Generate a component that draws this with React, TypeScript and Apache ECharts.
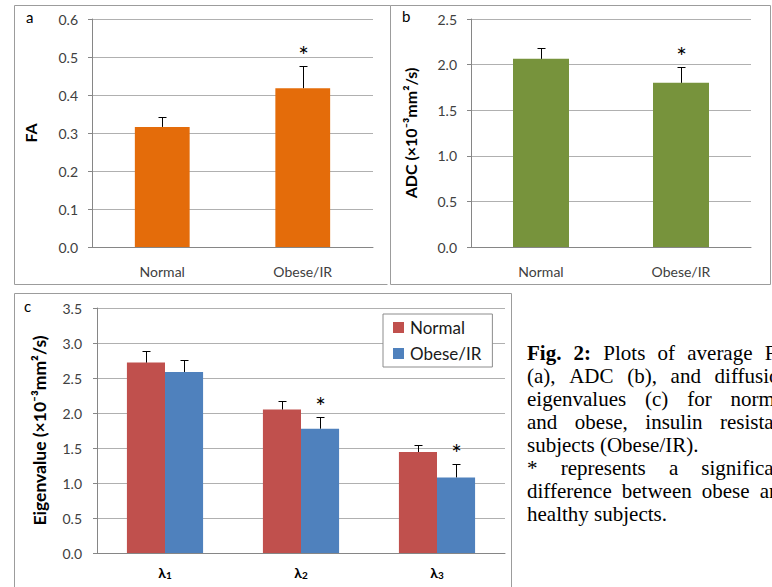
import React, { useEffect, useRef } from 'react';
import * as echarts from 'echarts';

// ---------- data ----------
const groups = ['Normal', 'Obese/IR'];

const faMeans = [0.316, 0.418];
const faErrors = [0.025, 0.058];
const faSignificant = [false, true];

const adcMeans = [2.063, 1.8];
const adcErrors = [0.117, 0.176];
const adcSignificant = [false, true];

const eigenCategories = ['λ1', 'λ2', 'λ3'];
const eigenNormal = [2.72, 2.05, 1.443];
const eigenNormalErr = [0.16, 0.12, 0.104];
const eigenObese = [2.586, 1.776, 1.08];
const eigenObeseErr = [0.171, 0.174, 0.196];
const eigenSignificant = [false, true, true];

const faRange = [0, 0.6, 0.1];
const adcRange = [0, 2.5, 0.5];
const eigenRange = [0, 3.5, 0.5];

const captionLines = [
  { text: 'Fig. 2: Plots of average FA', justify: true, boldWords: 2 },
  { text: '(a), ADC (b), and diffusion', justify: true, boldWords: 0 },
  { text: 'eigenvalues (c) for normal', justify: true, boldWords: 0 },
  { text: 'and obese, insulin resistant', justify: true, boldWords: 0 },
  { text: 'subjects (Obese/IR).', justify: false, boldWords: 0 },
  { text: '* represents a significant', justify: true, boldWords: 0 },
  { text: 'difference between obese and', justify: true, boldWords: 0 },
  { text: 'healthy subjects.', justify: false, boldWords: 0 },
];

// ---------- styles ----------
const FONT = 'Lato, "Open Sans", "DejaVu Sans", sans-serif';
const SERIF = '"Liberation Serif", "Times New Roman", serif';
const AXIS_GRAY = '#868686';
const GRID_GRAY = '#b0b0b0';
const LABEL = '#404040';
const BORDER = '#9c9c9c';
const CAPTION_SIZE = 21;

function valueAxis(gridIndex: number, range: number[], name: string, nameGap: number, nameSize: number, margin: number) {
  return {
    type: 'value',
    gridIndex,
    min: range[0],
    max: range[1],
    interval: range[2],
    name,
    nameLocation: 'middle',
    nameGap,
    nameRotate: 90,
    nameTextStyle: { fontFamily: FONT, fontWeight: 'bold', fontSize: nameSize, color: '#000' },
    axisLine: { show: true, lineStyle: { color: AXIS_GRAY } },
    axisTick: { show: true, length: 4, lineStyle: { color: AXIS_GRAY } },
    axisLabel: { fontFamily: FONT, fontSize: 14, color: LABEL, margin, formatter: (v: number) => v.toFixed(1) },
    splitLine: { show: true, lineStyle: { color: GRID_GRAY } },
  };
}

function errorSeries(name: string, xi: number, means: number[], errs: number[], sig: boolean[], offset: number, starGap: number) {
  return {
    type: 'custom',
    name,
    xAxisIndex: xi,
    yAxisIndex: xi,
    z: 5,
    silent: true,
    data: means.map((m, i) => [i, m, errs[i], sig[i] ? 1 : 0]),
    renderItem: (params: any, api: any) => {
      const i = api.value(0);
      const m = api.value(1);
      const e = api.value(2);
      const s = api.value(3);
      const band = api.size([1, 0])[0];
      const base = api.coord([i, m]);
      const top = api.coord([i, m + e]);
      const x = Math.round(base[0] + offset * band) + 0.5;
      const yt = Math.round(top[1]) + 0.5;
      const children: any[] = [
        { type: 'line', shape: { x1: x, y1: base[1], x2: x, y2: yt }, style: { stroke: '#000', lineWidth: 1 } },
        { type: 'line', shape: { x1: x - 4, y1: yt, x2: x + 4, y2: yt }, style: { stroke: '#000', lineWidth: 1 } },
      ];
      if (s) {
        children.push({
          type: 'text',
          x,
          y: yt - starGap,
          style: { text: '*', fill: '#000', fontSize: 25, fontFamily: FONT, align: 'center', verticalAlign: 'middle' },
        });
      }
      return { type: 'group', children };
    },
  };
}

function captionGraphics(): any[] {
  const canvas = document.createElement('canvas');
  const ctx = canvas.getContext('2d')!;
  const L = 527;
  const R = 790;
  const center0 = 352.5;
  const step = 23;
  const out: any[] = [];
  captionLines.forEach((line, li) => {
    const words = line.text.split(' ');
    const widths = words.map((w, wi) => {
      ctx.font = `${wi < line.boldWords ? 'bold ' : ''}${CAPTION_SIZE}px "Liberation Serif"`;
      return ctx.measureText(w).width;
    });
    ctx.font = `${CAPTION_SIZE}px "Liberation Serif"`;
    const space = ctx.measureText(' ').width;
    const total = widths.reduce((a, b) => a + b, 0);
    const gap = line.justify && words.length > 1 ? (R - L - total) / (words.length - 1) : space;
    let x = L;
    words.forEach((w, wi) => {
      out.push({
        type: 'text',
        x,
        y: center0 + li * step,
        style: {
          text: w,
          fill: '#000',
          fontSize: CAPTION_SIZE,
          fontFamily: SERIF,
          fontWeight: wi < line.boldWords ? 'bold' : 'normal',
          align: 'left',
          verticalAlign: 'middle',
          textAlign: 'left',
          textVerticalAlign: 'middle',
        },
      });
      x += widths[wi] + gap;
    });
  });
  return out;
}

function buildOption(): any {
  const panelLabel = (t: string, x: number, y: number) => ({
    type: 'text',
    x,
    y,
    style: { text: t, fill: '#000', fontSize: 15, fontFamily: FONT, align: 'left', verticalAlign: 'middle', textAlign: 'left', textVerticalAlign: 'middle' },
  });
  return {
    animation: false,
    backgroundColor: '#fff',
    grid: [
      { left: 92, top: 19, width: 281, height: 228 },
      { left: 471, top: 19, width: 280, height: 228 },
      { left: 97, top: 308, width: 408, height: 245 },
    ],
    legend: {
      data: ['Normal', 'Obese/IR'],
      orient: 'vertical',
      left: 383,
      top: 314,
      padding: [5, 11, 5, 10],
      itemGap: 9,
      itemWidth: 11,
      itemHeight: 11,
      icon: 'rect',
      borderColor: '#8c8c8c',
      borderWidth: 1,
      backgroundColor: '#fff',
      textStyle: { fontFamily: FONT, fontSize: 17, color: '#1a1a1a', padding: [0, 0, 0, 1] },
    },
    xAxis: [
      {
        type: 'category', gridIndex: 0, data: groups,
        axisLine: { lineStyle: { color: AXIS_GRAY } }, axisTick: { show: false },
        axisLabel: { fontFamily: FONT, fontSize: 14, color: LABEL, margin: 17 },
      },
      {
        type: 'category', gridIndex: 1, data: groups,
        axisLine: { lineStyle: { color: AXIS_GRAY } }, axisTick: { show: false },
        axisLabel: { fontFamily: FONT, fontSize: 14, color: LABEL, margin: 17 },
      },
      {
        type: 'category', gridIndex: 2, data: eigenCategories,
        axisLine: { lineStyle: { color: AXIS_GRAY } }, axisTick: { show: false },
        axisLabel: {
          margin: 11,
          formatter: (v: string) => `{l|${v.charAt(0)}}{s|${v.slice(1)}}`,
          rich: {
            l: { fontFamily: FONT + ', "DejaVu Sans"', fontWeight: 'bold', fontSize: 14, color: '#000' },
            s: { fontFamily: FONT, fontWeight: 'bold', fontSize: 10, color: '#000', verticalAlign: 'bottom', padding: [6, 0, 0, 0] },
          },
        },
      },
    ],
    yAxis: [
      valueAxis(0, faRange, 'FA', 53.5, 16, 14),
      valueAxis(1, adcRange, 'ADC (×10⁻³mm²/s)', 52.5, 16, 14),
      valueAxis(2, eigenRange, 'Eigenvalue (×10⁻³mm²/s)', 49, 17.5, 15),
    ],
    series: [
      { type: 'bar', name: 'FA', xAxisIndex: 0, yAxisIndex: 0, data: faMeans, barWidth: '39%', itemStyle: { color: '#E46C0A' } },
      errorSeries('FA error', 0, faMeans, faErrors, faSignificant, 0, 12),
      { type: 'bar', name: 'ADC', xAxisIndex: 1, yAxisIndex: 1, data: adcMeans, barWidth: '40%', itemStyle: { color: '#77933C' } },
      errorSeries('ADC error', 1, adcMeans, adcErrors, adcSignificant, 0, 12),
      { type: 'bar', name: 'Normal', xAxisIndex: 2, yAxisIndex: 2, data: eigenNormal, barWidth: '28%', barGap: '0%', itemStyle: { color: '#C0504D' } },
      { type: 'bar', name: 'Obese/IR', xAxisIndex: 2, yAxisIndex: 2, data: eigenObese, barWidth: '28%', barGap: '0%', itemStyle: { color: '#4F81BD' } },
      errorSeries('Normal error', 2, eigenNormal, eigenNormalErr, eigenNormal.map(() => false), -0.14, 12),
      errorSeries('Obese/IR error', 2, eigenObese, eigenObeseErr, eigenSignificant, 0.14, 12),
    ],
    graphic: [
      { type: 'polyline', shape: { points: [[390.5, 5.5], [14.5, 5.5], [14.5, 284.5], [387.5, 284.5]] }, style: { stroke: BORDER, fill: 'none', lineWidth: 1 } },
      { type: 'rect', shape: { x: 390.5, y: 5.5, width: 380, height: 279 }, style: { stroke: BORDER, fill: 'none', lineWidth: 1 } },
      { type: 'rect', shape: { x: 14.5, y: 293.5, width: 497, height: 320 }, style: { stroke: BORDER, fill: 'none', lineWidth: 1 } },
      panelLabel('a', 26, 17),
      panelLabel('b', 402, 16),
      panelLabel('c', 24, 306),
      ...captionGraphics(),
    ],
  };
}

export default function App() {
  const ref = useRef<HTMLDivElement>(null);
  useEffect(() => {
    const chart = echarts.init(ref.current!, null, { renderer: 'svg' });
    chart.setOption(buildOption());
    return () => chart.dispose();
  }, []);
  return <div ref={ref} style={{ position: 'absolute', left: 0, top: 0, width: 772, height: 587, background: '#fff' }} />;
}
